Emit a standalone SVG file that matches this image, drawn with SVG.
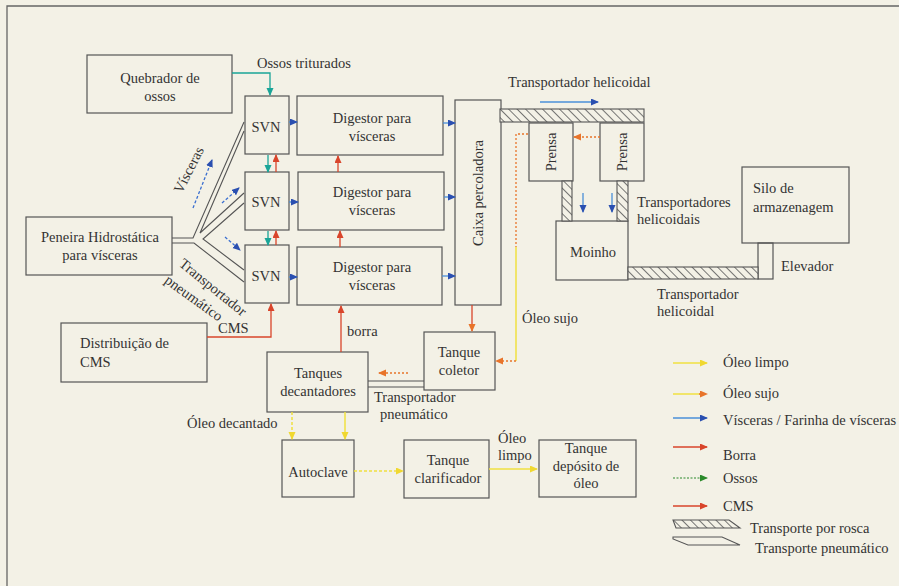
<svg xmlns="http://www.w3.org/2000/svg" width="899" height="586" viewBox="0 0 899 586" font-family="'Liberation Serif', 'DejaVu Serif', serif">
<style>
.bx{fill:none;stroke:#555;stroke-width:1.2}
.t{font-family:'Liberation Serif','DejaVu Serif',serif;font-size:14.5px;fill:#333}
.m{text-anchor:middle}
.pp{fill:none;stroke:#555;stroke-width:1.1}
.hb{fill:url(#hatch);stroke:#555;stroke-width:1.1}
.bl{fill:none;stroke:#4a8fd8;stroke-width:1.3}
.bld{fill:none;stroke:#3a6fd0;stroke-width:1.3;stroke-dasharray:3,2}
.rd{fill:none;stroke:#d9452b;stroke-width:1.3}
.or{fill:none;stroke:#e8742a;stroke-width:1.3;stroke-dasharray:2,2}
.ye{fill:none;stroke:#f0e040;stroke-width:1.5}
.yed{fill:none;stroke:#f0e040;stroke-width:1.5;stroke-dasharray:3,2}
.te{fill:none;stroke:#1aa598;stroke-width:1.3}
.gr{fill:none;stroke:#2a8a2a;stroke-width:1.2;stroke-dasharray:2,1.5}
</style>
<defs>
<pattern id="hatch" patternUnits="userSpaceOnUse" width="6" height="6" patternTransform="rotate(-45)">
<rect width="6" height="6" fill="#f3f1e6"/>
<line x1="0" y1="0" x2="0" y2="6" stroke="#555" stroke-width="1.6"/>
</pattern>
<marker id="ab" markerUnits="userSpaceOnUse" markerWidth="9" markerHeight="8" refX="7" refY="3.5" orient="auto"><path d="M0,0 L8,3.5 L0,7 Z" fill="#2a4fb0"/></marker>
<marker id="ar" markerUnits="userSpaceOnUse" markerWidth="9" markerHeight="8" refX="7" refY="3.5" orient="auto"><path d="M0,0 L8,3.5 L0,7 Z" fill="#d9452b"/></marker>
<marker id="ao" markerUnits="userSpaceOnUse" markerWidth="9" markerHeight="8" refX="7" refY="3.5" orient="auto"><path d="M0,0 L8,3.5 L0,7 Z" fill="#e8742a"/></marker>
<marker id="ay" markerUnits="userSpaceOnUse" markerWidth="9" markerHeight="8" refX="7" refY="3.5" orient="auto"><path d="M0,0 L8,3.5 L0,7 Z" fill="#f0d830"/></marker>
<marker id="at" markerUnits="userSpaceOnUse" markerWidth="9" markerHeight="8" refX="7" refY="3.5" orient="auto"><path d="M0,0 L8,3.5 L0,7 Z" fill="#1aa598"/></marker>
<marker id="ag" markerUnits="userSpaceOnUse" markerWidth="9" markerHeight="8" refX="7" refY="3.5" orient="auto"><path d="M0,0 L8,3.5 L0,7 Z" fill="#2a8a2a"/></marker>
</defs>
<rect width="899" height="586" fill="#f3f1e6"/>
<path d="M7,586 V6 H899" fill="none" stroke="#666" stroke-width="1.3"/>

<g id="quebrador"><rect class="bx" x="87" y="55" width="145" height="58"/><text class="t m" x="160" y="83">Quebrador de</text><text class="t m" x="160" y="101">ossos</text></g>
<g id="svn1"><rect class="bx" x="245" y="96" width="44" height="58"/><text class="t m" x="266" y="132">SVN</text></g>
<g id="svn2"><rect class="bx" x="245" y="172" width="44" height="58"/><text class="t m" x="266" y="207">SVN</text></g>
<g id="svn3"><rect class="bx" x="245" y="245" width="44" height="58"/><text class="t m" x="266" y="281">SVN</text></g>
<g id="digestor1"><rect class="bx" x="297" y="96" width="146" height="59"/><text class="t m" x="372" y="123">Digestor para</text><text class="t m" x="372" y="141">vísceras</text></g>
<g id="digestor2"><rect class="bx" x="298" y="172" width="146" height="58"/><text class="t m" x="372" y="197">Digestor para</text><text class="t m" x="372" y="215">vísceras</text></g>
<g id="digestor3"><rect class="bx" x="297" y="247" width="145" height="58"/><text class="t m" x="372" y="272">Digestor para</text><text class="t m" x="372" y="290">vísceras</text></g>
<g id="caixa"><rect class="bx" x="455" y="100" width="46" height="205"/><text class="t m" transform="translate(483,193) rotate(-90)">Caixa percoladora</text></g>
<g id="prensa1"><rect class="bx" x="529" y="123" width="44" height="58"/><text class="t m" transform="translate(556,152) rotate(-90)">Prensa</text></g>
<g id="prensa2"><rect class="bx" x="600" y="123" width="44" height="58"/><text class="t m" transform="translate(627,152) rotate(-90)">Prensa</text></g>
<g id="moinho"><rect class="bx" x="556" y="221" width="72" height="59"/><text class="t m" x="593" y="257">Moinho</text></g>
<g id="silo"><rect class="bx" x="742" y="167" width="107" height="76"/><text class="t" x="753" y="193">Silo de</text><text class="t" x="753" y="212">armazenagem</text></g>
<g id="elevador"><rect class="bx" x="758" y="243" width="15" height="36"/><text class="t" x="781" y="271">Elevador</text></g>
<g id="peneira"><rect class="bx" x="26" y="217" width="146" height="58"/><text class="t m" x="100" y="242">Peneira Hidrostática</text><text class="t m" x="100" y="260">para vísceras</text></g>
<g id="distribuicao"><rect class="bx" x="61" y="323" width="146" height="59"/><text class="t" x="80" y="348">Distribuição de</text><text class="t" x="80" y="367">CMS</text></g>
<g id="coletor"><rect class="bx" x="424" y="332" width="71" height="58"/><text class="t m" x="459" y="357">Tanque</text><text class="t m" x="459" y="375">coletor</text></g>
<g id="decantadores"><rect class="bx" x="267" y="352" width="101" height="60"/><text class="t m" x="318" y="378">Tanques</text><text class="t m" x="318" y="396">decantadores</text></g>
<g id="autoclave"><rect class="bx" x="282" y="440" width="72" height="57"/><text class="t m" x="318" y="477">Autoclave</text></g>
<g id="clarificador"><rect class="bx" x="404" y="440" width="85" height="58"/><text class="t m" x="448" y="465">Tanque</text><text class="t m" x="448" y="483">clarificador</text></g>
<g id="deposito"><rect class="bx" x="539" y="440" width="97" height="57"/><text class="t m" x="586" y="453">Tanque</text><text class="t m" x="586" y="471">depósito de</text><text class="t m" x="586" y="488">óleo</text></g>

<g id="conveyors">
<rect class="hb" x="500" y="109" width="144" height="13"/>
<rect class="hb" x="562" y="181" width="10" height="40"/>
<rect class="hb" x="617" y="181" width="11" height="40"/>
<rect class="hb" x="628" y="267" width="130" height="12"/>
<path class="pp" d="M172,238 H193 L244,122"/>
<path class="pp" d="M244,131 L200,233 L244,193"/>
<path class="pp" d="M244,203 L203,239 L244,270"/>
<path class="pp" d="M172,243 H194 L244,282"/>
<path class="pp" d="M368,381 H424 M368,387 H424"/>
</g>

<g id="connectors">
<path class="te" d="M232,73 H270 V95" marker-end="url(#at)"/>
<path class="bl" d="M289,122 H297" marker-end="url(#ab)"/>
<path class="bl" d="M289,202 H298" marker-end="url(#ab)"/>
<path class="bl" d="M289,277 H297" marker-end="url(#ab)"/>
<path class="bl" d="M443,123 H455" marker-end="url(#ab)"/>
<path class="bl" d="M444,197 H455" marker-end="url(#ab)"/>
<path class="bl" d="M442,276 H455" marker-end="url(#ab)"/>
<path class="te" d="M268,155 V172" marker-end="url(#at)"/>
<path class="rd" d="M276,172 V155" marker-end="url(#ar)"/>
<path class="te" d="M268,231 V245" marker-end="url(#at)"/>
<path class="rd" d="M276,245 V231" marker-end="url(#ar)"/>
<path class="rd" d="M338,172 V156" marker-end="url(#ar)"/>
<path class="rd" d="M340,247 V231" marker-end="url(#ar)"/>
<path class="rd" d="M341,352 V306" marker-end="url(#ar)"/>
<path class="rd" d="M207,337 H271 V304" marker-end="url(#ar)"/>
<path class="bld" d="M193,208 L212,160" marker-end="url(#ab)"/>
<path class="bld" d="M222,203 L239,188" marker-end="url(#ab)"/>
<path class="bld" d="M225,237 L240,250" marker-end="url(#ab)"/>
<path class="rd" d="M472,305 V331" stroke="#e8642a" marker-end="url(#ao)"/>
<path class="or" d="M528,134 H516 V247"/>
<path class="ye" d="M516,247 V361"/>
<path class="or" d="M516,361 H496" marker-end="url(#ao)"/>
<path class="or" d="M600,137 H574" marker-end="url(#ao)"/>
<path class="bl" d="M540,102 H598" stroke="#3a5fc0" marker-end="url(#ab)"/>
<path class="bl" d="M583,193 V212" marker-end="url(#ab)"/>
<path class="bl" d="M612,193 V212" marker-end="url(#ab)"/>
<path class="or" d="M408,373 H379" marker-end="url(#ao)"/>
<path class="yed" d="M292,412 V439" stroke="#f0c040" marker-end="url(#ay)"/>
<path class="ye" d="M345,412 V439" marker-end="url(#ay)"/>
<path class="yed" d="M354,471 H403" marker-end="url(#ay)"/>
<path class="ye" d="M489,469 H537" marker-end="url(#ay)"/>
</g>

<g id="labels">
<text class="t" x="257" y="68">Ossos triturados</text>
<text class="t" x="508" y="87">Transportador helicoidal</text>
<text class="t" x="637" y="207">Transportadores</text>
<text class="t" x="637" y="224">helicoidais</text>
<text class="t" x="657" y="299">Transportador</text>
<text class="t" x="657" y="316">helicoidal</text>
<text class="t m" transform="translate(193,172) rotate(-63)">Vísceras</text>
<text class="t m" transform="translate(210,291) rotate(39)">Transportador</text>
<text class="t m" transform="translate(191,302) rotate(36)">pneumático</text>
<text class="t" x="218" y="333">CMS</text>
<text class="t" x="347" y="336">borra</text>
<text class="t" x="522" y="323">Óleo sujo</text>
<text class="t" x="374" y="402">Transportador</text>
<text class="t" x="380" y="419">pneumático</text>
<text class="t" x="187" y="428">Óleo decantado</text>
<text class="t" x="498" y="443">Óleo</text>
<text class="t" x="498" y="460">limpo</text>
</g>

<g id="legend">
<path class="ye" d="M673,363 H707" marker-end="url(#ay)"/>
<text class="t" x="723" y="367">Óleo limpo</text>
<path class="ye" d="M673,394 H700"/><path class="or" d="M699,394 H707" marker-end="url(#ao)"/>
<text class="t" x="723" y="398">Óleo sujo</text>
<path class="bl" d="M673,418 H707" marker-end="url(#ab)"/>
<text class="t" x="723" y="425">Vísceras / Farinha de vísceras</text>
<path class="rd" d="M673,447 H707" marker-end="url(#ar)"/>
<text class="t" x="723" y="460">Borra</text>
<path class="gr" d="M673,478 H707" marker-end="url(#ag)"/>
<text class="t" x="723" y="483">Ossos</text>
<path class="rd" d="M673,506 H707" marker-end="url(#ar)"/>
<text class="t" x="723" y="511">CMS</text>
<polygon class="hb" points="673,520 729,520 740,528 676,528"/>
<text class="t" x="750" y="533">Transporte por  rosca</text>
<path class="pp" d="M673,537 H722 L740,545 H688 L673,539 Z"/>
<text class="t" x="755" y="553">Transporte pneumático</text>
</g>
</svg>
